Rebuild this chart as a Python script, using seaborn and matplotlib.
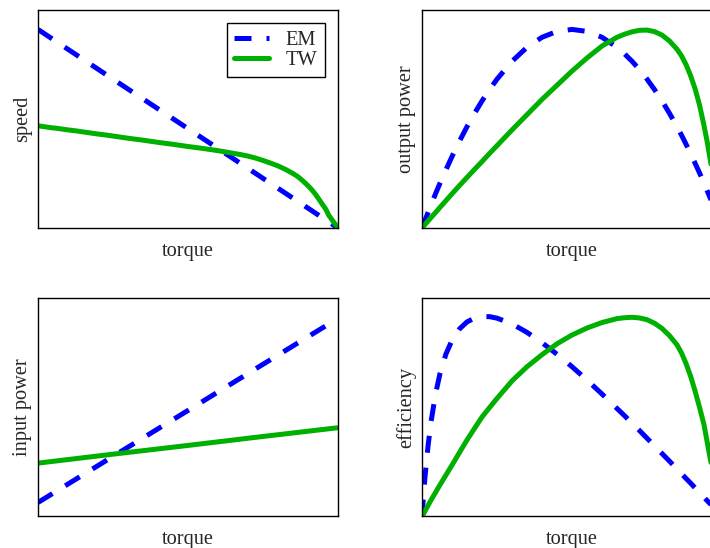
"""
Motor characteristic curves: EM vs TW, four panels against torque.
"""
import numpy as np
import pandas as pd
import matplotlib
matplotlib.use("Agg")
import matplotlib.pyplot as plt
import seaborn as sns

# straight-line curves only need a few points
torque_lin = [0, 0.25, 0.5, 0.75, 1.0]
speed_em = [0.911, 0.683, 0.456, 0.228, 0.0]
in_em = [0.064, 0.275, 0.485, 0.696, 0.906]
in_tw = [0.244, 0.285, 0.325, 0.366, 0.406]

# denser torque grid for the bent curves
torque = [0, 0.005, 0.01, 0.02, 0.03, 0.045, 0.06, 0.08, 0.1, 0.125, 0.15, 0.175,
          0.2, 0.225, 0.25, 0.3, 0.35, 0.4, 0.45, 0.5, 0.55, 0.6, 0.65, 0.675,
          0.7, 0.725, 0.75, 0.775, 0.8, 0.825, 0.85, 0.865, 0.88, 0.895, 0.91,
          0.925, 0.94, 0.95, 0.96, 0.97, 0.98, 0.99, 1.0]

speed_tw = [0.469, 0.468, 0.467, 0.465, 0.463, 0.460, 0.458, 0.454, 0.450, 0.446,
            0.441, 0.436, 0.431, 0.427, 0.422, 0.412, 0.403, 0.393, 0.384, 0.374,
            0.365, 0.355, 0.343, 0.337, 0.330, 0.321, 0.310, 0.298, 0.285, 0.269,
            0.250, 0.237, 0.220, 0.201, 0.180, 0.155, 0.125, 0.105, 0.085, 0.057,
            0.038, 0.019, 0.0]

out_em = [0.0, 0.018, 0.036, 0.071, 0.106, 0.157, 0.206, 0.268, 0.328, 0.399,
          0.465, 0.526, 0.583, 0.635, 0.683, 0.765, 0.829, 0.875, 0.902, 0.911,
          0.902, 0.875, 0.829, 0.799, 0.765, 0.727, 0.683, 0.635, 0.583, 0.526,
          0.465, 0.426, 0.385, 0.342, 0.298, 0.253, 0.206, 0.173, 0.140, 0.106,
          0.071, 0.036, 0.0]
out_tw = [0.0, 0.008, 0.016, 0.032, 0.048, 0.071, 0.095, 0.126, 0.157, 0.195,
          0.232, 0.269, 0.305, 0.342, 0.378, 0.450, 0.520, 0.590, 0.655, 0.720,
          0.780, 0.835, 0.875, 0.889, 0.900, 0.907, 0.908, 0.901, 0.885, 0.858,
          0.820, 0.790, 0.750, 0.700, 0.640, 0.565, 0.470, 0.400, 0.320, 0.240,
          0.160, 0.080, 0.0]

eff_em = [0.0, 0.097, 0.182, 0.322, 0.433, 0.560, 0.654, 0.744, 0.806, 0.858,
          0.890, 0.907, 0.914, 0.914, 0.907, 0.881, 0.842, 0.795, 0.742, 0.685,
          0.624, 0.560, 0.494, 0.461, 0.427, 0.393, 0.358, 0.323, 0.288, 0.253,
          0.217, 0.196, 0.174, 0.153, 0.131, 0.109, 0.088, 0.073, 0.059, 0.044,
          0.029, 0.015, 0.0]
eff_tw = [0.0, 0.012, 0.025, 0.050, 0.075, 0.110, 0.145, 0.190, 0.235, 0.293,
          0.350, 0.403, 0.455, 0.498, 0.540, 0.620, 0.685, 0.740, 0.790, 0.830,
          0.862, 0.887, 0.905, 0.909, 0.911, 0.908, 0.900, 0.884, 0.860, 0.827,
          0.785, 0.748, 0.700, 0.643, 0.575, 0.500, 0.420, 0.345, 0.270, 0.200,
          0.130, 0.065, 0.0]

panels = [
    ("speed", torque_lin, speed_em, torque, speed_tw),
    ("output power", torque, out_em, torque, out_tw),
    ("input power", torque_lin, in_em, torque_lin, in_tw),
    ("efficiency", torque, eff_em, torque, eff_tw),
]

sns.set_style("white")
plt.rcParams['font.family'] = ['Liberation Serif', 'DejaVu Serif']

FS = 14.7
LW = 3.6
EM_COLOR = "#0000ff"
TW_COLOR = "#00b000"

fig = plt.figure(figsize=(7.10, 5.48), dpi=100)
# axes boxes in figure fractions; the right column runs past the figure edge
boxes = [
    [0.0535, 0.5839, 0.4225, 0.3978],
    [0.5944, 0.5839, 0.4225, 0.3978],
    [0.0535, 0.0575, 0.4225, 0.3990],
    [0.5944, 0.0575, 0.4225, 0.3990],
]

for i, (ylabel, x_em, em, x_tw, tw) in enumerate(panels):
    ax = fig.add_axes(boxes[i])
    sns.lineplot(x=x_em, y=em, ax=ax, color=EM_COLOR, linewidth=LW,
                 linestyle=(0, (3.4, 3.0)), label="EM", legend=False)
    sns.lineplot(x=x_tw, y=tw, ax=ax, color=TW_COLOR, linewidth=LW,
                 label="TW", legend=False)
    ax.set_xlim(0, 1)
    ax.set_ylim(0, 1)
    ax.set_xticks([])
    ax.set_yticks([])
    ax.set_xlabel("torque", fontsize=FS, labelpad=10)
    ax.set_ylabel(ylabel, fontsize=FS, labelpad=4)
    for sp in ax.spines.values():
        sp.set_color("black")
        sp.set_linewidth(1.0)
    if i == 0:
        leg = ax.legend(loc="upper right", fontsize=FS, frameon=True,
                        fancybox=False, framealpha=1, edgecolor="black",
                        borderaxespad=0.65, borderpad=0.35, labelspacing=0.05,
                        handlelength=1.75, handletextpad=0.8)
        leg.get_frame().set_linewidth(1.0)

fig.savefig("out.png", dpi=100)
